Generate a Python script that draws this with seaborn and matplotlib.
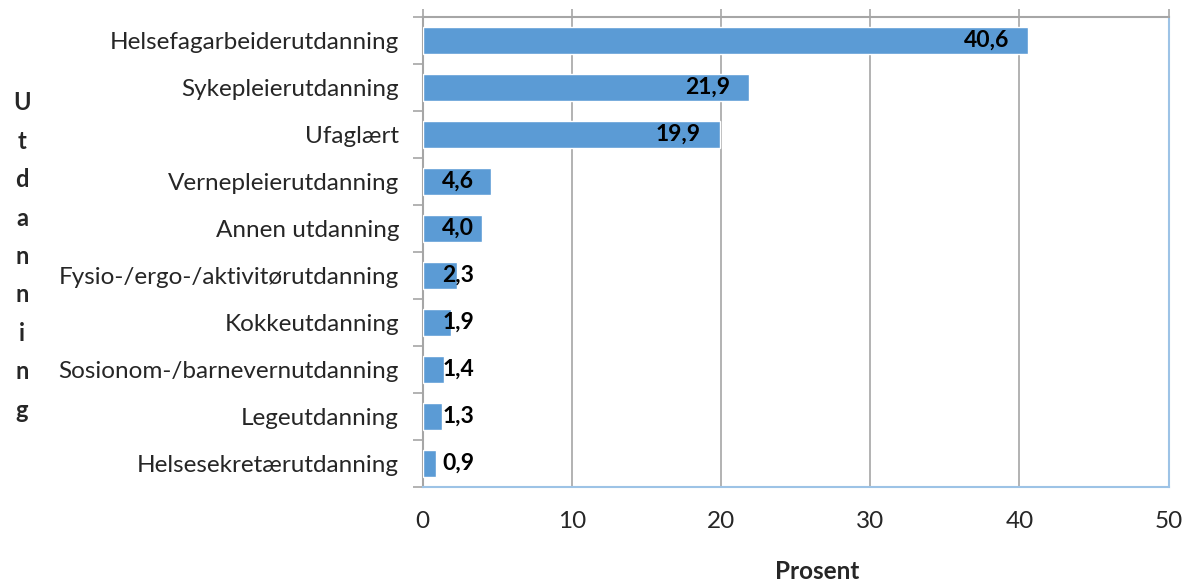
import matplotlib
matplotlib.use('Agg')
import matplotlib.pyplot as plt
import seaborn as sns
import pandas as pd
import numpy as np

# data
utdanning = ['Helsefagarbeiderutdanning', 'Sykepleierutdanning', 'Ufaglært',
             'Vernepleierutdanning', 'Annen utdanning', 'Fysio-/ergo-/aktivitørutdanning',
             'Kokkeutdanning', 'Sosionom-/barnevernutdanning', 'Legeutdanning',
             'Helsesekretærutdanning']
prosent = [40.6, 21.9, 19.9, 4.6, 4.0, 2.3, 1.9, 1.4, 1.3, 0.9]
xticks = [0, 10, 20, 30, 40, 50]

df = pd.DataFrame({'utdanning': utdanning, 'prosent': prosent})

sns.set_style('white')
plt.rcParams['font.family'] = ['Lato', 'DejaVu Sans']

fig = plt.figure(figsize=(11.84, 5.82), dpi=100)
ax = fig.add_axes([0.357, 0.163, 0.630, 0.808])

sns.barplot(data=df, x='prosent', y='utdanning', orient='h', color='#5B9BD5',
            saturation=1, width=0.58, ax=ax, zorder=3)

ax.set_xlim(0, 50)
ax.set_ylim(len(utdanning) - 0.5, -0.5)
ax.set_xticks(xticks)
ax.set_xticklabels([str(t) for t in xticks])
ax.grid(axis='x', color='#A6A6A6', linewidth=1.2, zorder=0)
ax.grid(axis='y', visible=False)

# ticks on top edge, labels at the bottom
ax.tick_params(axis='x', top=True, bottom=False, labeltop=False, labelbottom=True,
               direction='out', length=6, width=1.2, color='#A6A6A6',
               labelsize=17.5, pad=11)
ax.tick_params(axis='y', which='major', length=0, labelsize=17.5, pad=17)
ax.set_yticks(np.arange(-0.5, len(utdanning), 1), minor=True)
ax.tick_params(axis='y', which='minor', left=True, direction='out', length=7,
               width=1.2, color='#A6A6A6')

for side in ['top', 'left']:
    ax.spines[side].set_color('#A6A6A6')
    ax.spines[side].set_linewidth(1.5)
for side in ['bottom', 'right']:
    ax.spines[side].set_color('#9DC3E6')
    ax.spines[side].set_linewidth(1.5)
    ax.spines[side].set_visible(True)

# value labels
for i, v in enumerate(prosent):
    txt = f'{v:.1f}'.replace('.', ',')
    if v > 8:
        ax.text(v - 1.3, i, txt, ha='right', va='center', fontsize=16.5,
                fontweight='bold', color='black', zorder=4)
    else:
        ax.text(1.3, i, txt, ha='left', va='center', fontsize=16.5,
                fontweight='bold', color='black', zorder=4)

ax.set_ylabel('')
ax.set_xlabel('Prosent', fontsize=17.5, fontweight='bold')
ax.xaxis.set_label_coords(0.529, -0.155)

# stacked vertical axis title
for k, ch in enumerate('Utdanning'):
    fig.text(22 / 1184, 1 - (103 + k * 38.4) / 582, ch, ha='center', va='center',
             fontsize=17, fontweight='bold')

fig.savefig('out.png', dpi=100)
